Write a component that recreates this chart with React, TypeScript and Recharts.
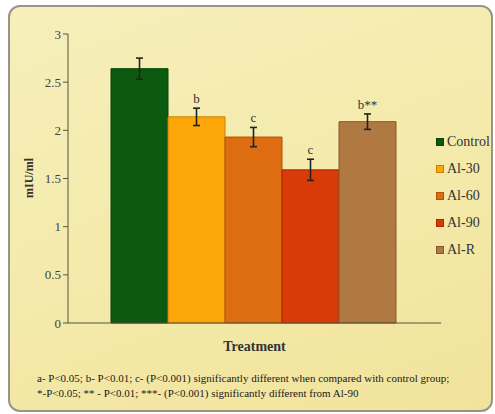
import { BarChart, Bar, XAxis, YAxis, ErrorBar, LabelList, Legend, Label } from "recharts";

const groups = ["Control", "Al-30", "Al-60", "Al-90", "Al-R"];
const means = [2.64, 2.14, 1.93, 1.59, 2.09];
const errors = [0.11, 0.09, 0.1, 0.11, 0.08];
const marks = ["", "b", "c", "c", "b**"];
const colors = ["#0b5a10", "#fda60a", "#de6d12", "#d93b08", "#b07942"];
const edges = ["#07400a", "#c98000", "#b05208", "#a82a04", "#86582c"];
const yTicks = [0, 0.5, 1, 1.5, 2, 2.5, 3];

const W = 495;
const H = 414;
const margin = { top: 34, right: 54, bottom: 61, left: 28 };
const plotH = H - margin.top - margin.bottom - 30;
const yMax = 3;

// one row, one key per treatment group
const row: Record<string, number | string> = { name: "Treatment" };
groups.forEach((g, i) => {
  row[g] = means[i];
  row[g + "_err"] = errors[i];
});
const data = [row];

const serif = "Liberation Serif";

function markLabel(i: number) {
  return (p: any) => {
    if (!marks[i]) return null;
    const errPx = (errors[i] * plotH) / yMax;
    return (
      <text x={p.x + p.width / 2} y={p.y - errPx - 5} textAnchor="middle" fontSize={13} fontFamily={serif} fill="#333">
        {marks[i]}
      </text>
    );
  };
}

function LegendBox() {
  return (
    <div style={{ fontFamily: serif, fontSize: 14, color: "#333" }}>
      {groups.map((g, i) => (
        <div key={g} style={{ display: "flex", alignItems: "center", height: 27 }}>
          <span style={{ width: 6, height: 6, background: colors[i], border: `1px solid ${edges[i]}`, marginRight: 3 }} />
          {g}
        </div>
      ))}
    </div>
  );
}

export default function App() {
  return (
    <div style={{ position: "fixed", left: 0, top: 0, width: W, height: H, background: "#fff", overflow: "hidden" }}>
      <div
        style={{
          position: "absolute", left: 8, top: 5, width: 481, height: 403,
          border: "2px solid #96958a", borderRadius: 12,
          background: "linear-gradient(160deg, #f6efbb 0%, #f4eaab 50%, #f1e39b 100%)",
        }}
      />
      <div style={{ position: "absolute", left: 0, top: 0 }}>
        <BarChart width={W} height={H} data={data} margin={margin} barCategoryGap={43} barGap={0}>
          <XAxis dataKey="name" tick={false} tickLine={false} axisLine={{ stroke: "#55553a" }} height={30}>
            <Label value="Treatment" position="insideBottom" offset={2} fontFamily={serif} fontWeight="bold" fontSize={14} fill="#333" />
          </XAxis>
          <YAxis
            domain={[0, yMax]}
            ticks={yTicks}
            width={40}
            axisLine={{ stroke: "#55553a" }}
            tickLine={{ stroke: "#55553a" }}
            tickSize={5}
            tick={{ fontFamily: serif, fontSize: 13, fill: "#444" }}
          >
            <Label
              content={() => (
                <text x={33} y={178} transform="rotate(-90 33 178)" textAnchor="middle" fontFamily={serif} fontWeight="bold" fontSize={12} fill="#333">
                  mIU/ml
                </text>
              )}
            />
          </YAxis>
          <Legend
            layout="vertical"
            align="center"
            verticalAlign="middle"
            content={() => <LegendBox />}
            wrapperStyle={{ left: 436, top: 128, width: 60 }}
          />
          {groups.map((g, i) => (
            <Bar key={g} dataKey={g} fill={colors[i]} stroke={edges[i]} strokeWidth={1} isAnimationActive={false}>
              <ErrorBar dataKey={g + "_err"} width={3.5} stroke="#222" strokeWidth={1.6} />
              <LabelList dataKey={g} content={markLabel(i)} />
            </Bar>
          ))}
        </BarChart>
      </div>
      <div style={{ position: "absolute", left: 37, top: 371, fontFamily: serif, fontSize: 11, lineHeight: "15px", color: "#1a1a1a", whiteSpace: "nowrap" }}>
        a- P&lt;0.05; b- P&lt;0.01; c- (P&lt;0.001) significantly different when compared with control group;
        <br />
        *-P&lt;0.05; ** - P&lt;0.01; ***- (P&lt;0.001) significantly different from Al-90
      </div>
    </div>
  );
}
